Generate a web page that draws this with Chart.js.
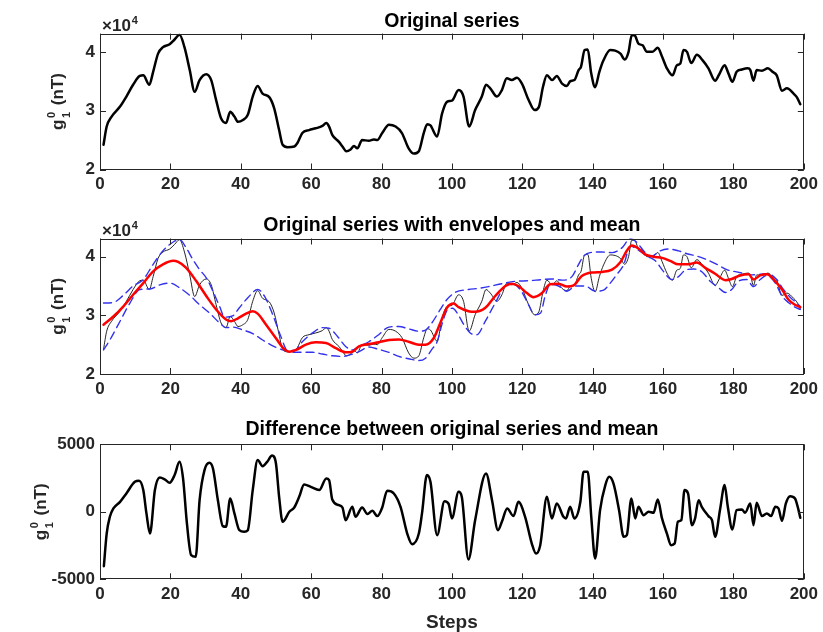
<!DOCTYPE html>
<html>
<head>
<meta charset="utf-8">
<title>g10 series, envelopes and mean</title>
<script src="https://cdn.jsdelivr.net/npm/chart.js@4.4.1/dist/chart.umd.min.js"></script>
<style>
  body { margin: 0; background: #fff; }
  #page { position: relative; width: 823px; height: 632px; overflow: hidden; }
  canvas { position: absolute; left: 0; }
</style>
</head>
<body>
<div id="page">
  <canvas id="c1" width="823" height="200" style="top:0"></canvas>
  <canvas id="c2" width="823" height="200" style="top:200px"></canvas>
  <canvas id="c3" width="823" height="232" style="top:400px"></canvas>
</div>
<script>
// --- data (nT) ---
const xTicks = [0, 20, 40, 60, 80, 100, 120, 140, 160, 180, 200];
const gTicks = [20000, 30000, 40000];
const diffTicks = [-5000, 0, 5000];

const origSteps = [1,1.9,3.3,5.7,7.5,9.4,11.3,12.3,14,15.1,
  16.5,17.9,19.8,21.2,22.6,24,25.5,26.9,28.3,30.2,
  31.6,33,34.4,35.8,37,38.2,39.2,40.6,42,43.4,
  44.8,46.2,48.1,49.5,50.9,51.9,53.3,55.2,56.1,57.5,
  59.4,61.3,63.2,64.3,65.1,66,67.9,68.9,70,71.2,
  72.2,73.1,74.5,76.4,77.8,78.8,80.2,82.1,84,85.8,
  87.7,89.2,90.6,92,93,93.9,95.8,97.2,98.6,100,
  101.9,103.3,104.9,106.6,108.5,109.7,110.9,112.8,114.2,115.6,
  117,118.5,119.9,121.8,123.5,124.7,125.9,127,128.5,129.8,
  131.3,132.7,133.6,134.8,136,136.7,137.7,138.6,139.6,140.7,
  141.9,143.1,145,146.4,147.9,149.1,150.2,151.1,151.9,153,
  154.2,155.4,157,158.5,159.7,161.1,162.7,163.9,164.9,165.8,
  166.8,168,169.6,171.2,172.9,174.8,175.9,177.5,178.6,179.7,
  180.9,182.4,184.1,184.8,185.7,186.6,188.1,189.8,191.1,192.3,
  193.8,195.2,197.1,198,199];
const origVals = [24200,27300,29000,30700,32400,34400,35900,36000,34400,36600,
  39700,40800,41300,42100,42900,40800,36900,33200,35200,36200,
  35200,31800,28700,27900,29800,29000,28100,28400,29300,32400,
  34200,32900,32300,30400,26700,24200,23800,23900,24500,26200,
  26700,27000,27400,27900,27300,25900,24700,23900,23100,23400,
  24000,23600,25000,24900,25100,25000,26200,27600,27300,26200,
  23600,22700,23100,26200,27700,27500,25600,29500,31500,31700,
  33500,32400,27300,30100,32400,34400,33800,32400,33500,35500,
  35200,35600,34600,31800,30100,30600,34100,36000,35200,35900,
  34600,34200,35000,35200,36900,37500,40300,40400,36300,34000,
  36600,38600,40300,40200,39700,38700,40000,42800,42800,41400,
  41100,40000,40000,40700,39200,37200,36000,37700,38000,40300,
  40000,38100,39500,38600,37200,35100,36100,37700,36300,34900,
  36600,37000,37200,36900,35100,36900,36800,37200,36600,36000,
  33400,33800,32900,32300,31100];

const meanSteps = [1,3.8,6.6,9.4,12.3,15.1,17.9,20.8,22.2,24.5,
  27.4,30.2,33,35.8,37.3,39.2,41.5,43.4,44.8,47.2,
  50,52.4,53.8,55.7,58.5,61.3,64.2,67,69.8,71.7,
  73.6,76.4,79.2,82.1,84.9,87.7,90.6,92.5,94.8,96.7,
  98.6,100.5,101.9,104.7,106.6,109.5,112.3,115.2,117,118.9,
  121.3,123.2,125.6,127.9,130.3,132.7,134.6,136.9,139.8,142.6,
  145.5,147.8,149.7,151.1,153,154.9,157.3,159.7,162,164.4,
  167.2,169.6,172,174.8,177.7,179.5,181.9,184.3,185.7,187.6,
  189.5,191.9,193.8,195.6,197.5,199];
const meanVals = [28400,29800,31500,33500,35500,37500,38700,39300,39100,38100,
  35800,33300,31000,29300,29000,29500,30300,30700,30300,28400,
  26100,24200,23800,24100,25000,25400,25300,24400,23700,23800,
  24700,25100,25400,25800,25900,25500,25000,25000,26100,28700,
  31300,32000,31400,30700,30600,31300,33300,35000,35400,35000,
  33800,33100,33800,35300,35400,34900,35100,36700,37300,37400,
  37800,39000,41000,41900,41400,40400,40000,39800,39300,38700,
  38700,39000,38100,37100,36000,36200,36800,37000,36100,36800,
  37000,35800,34400,32700,31800,31400];

const upperSteps = [1,3.8,6.6,9.4,12.3,15.1,17.9,20.8,22.6,24.5,
  26.4,28.3,30.2,32.1,34,35.4,37.7,39.6,42,44.8,
  46.7,49.1,51.4,53.3,55.2,57.5,60.4,63.2,65.1,67.5,
  69.8,71.7,73.6,76.4,79.2,82.1,84.9,87.7,90.6,92.5,
  94.3,96.7,98.6,100.9,104.7,107.6,110.4,114.2,118,121.8,
  125.6,128.4,131.3,134.1,136,137.4,139.3,142.6,145.5,148.3,
  150.7,152.6,154.9,156.8,159.2,161.6,164.4,166.8,169.6,172.4,
  175.3,178.1,180.9,183.3,185.2,187.6,189.8,192.3,194.2,196.1,
  198,199];
const upperVals = [32100,32200,33400,35000,36100,38700,41000,42500,42900,41500,
  39500,37800,36400,34100,31500,29700,29900,31300,33000,34400,
  33300,30100,26400,24000,24000,25500,27000,27900,27800,26400,
  24700,24100,24700,25500,26700,28000,28100,27700,27300,27500,
  28700,31000,32700,33900,34400,34600,34900,35400,35800,35900,
  36100,36200,36000,36600,38700,40100,40700,40800,40700,41500,
  43100,42400,40700,40100,41000,41300,41000,40500,40100,39500,
  38700,37800,37400,37100,36900,37000,37100,36100,34400,33100,
  32100,31500];

const lowerSteps = [1,2.8,5.7,8.5,11.3,14.2,17,19.8,22.6,25.5,
  28.3,31.1,34,35.8,37.7,40.6,43.4,46.2,49.1,51.9,
  54.7,57.5,60.4,63.2,66,68.9,71.2,73.6,76.4,79.2,
  82.1,84.9,87.7,90.6,92.5,94.3,95.8,97.2,98.6,100.2,
  101.7,103.3,105.2,107.1,109.5,112.3,115.2,117.5,119.4,121.8,
  123.5,125.2,126.5,128,130.3,132.7,135,137.9,140.7,143.1,
  145,146.9,148.8,150.7,153,155.4,157.8,160.1,162.5,164.4,
  166.3,168.7,171.1,173.4,175.8,177.7,179.5,181.4,183.8,185.7,
  187.6,189.5,191.9,193.8,195.6,197.5,199];
const lowerVals = [24100,25800,29000,32100,34400,34500,35200,35500,34700,33400,
  31800,30400,28700,27900,28000,27500,26900,25800,24800,24100,
  23700,23700,23700,23400,23100,23000,23300,23800,24600,24200,
  23700,23000,22600,22300,22700,24200,25500,28500,30800,31200,
  30200,28500,27000,26700,29000,32100,35000,35300,34400,31800,
  30100,30400,33300,35300,35000,34100,35000,35000,34100,34300,
  35500,37000,38600,41800,41100,40100,39300,37500,36100,36600,
  37700,37900,37400,35800,34700,33900,34400,35800,36100,34900,
  36100,36800,35500,33300,32200,31400,31000];

const diffSteps = [1.1,1.9,2.8,3.8,5.7,7.5,9.9,11.1,12.3,13.2,
  14.2,15.6,17,18.4,19.8,21.2,22.6,23.6,24.7,25.9,
  27.2,28.3,29.7,31.1,32.1,33.5,34.9,35.8,37,38.2,
  39.6,41,42,43.4,44.8,46.2,47.5,48.9,50,50.9,
  51.9,53.8,55.2,56.6,58,59.9,62.3,64.3,65.1,66,
  67.9,68.9,69.8,71.7,72.6,74.5,76,77.4,78.8,80.2,
  81.6,83.5,85.4,87.3,88.7,90.6,91.5,92.9,93.9,95.8,
  97.9,99.1,100,101.9,102.8,104.7,106.6,109.7,111.4,113.1,
  114.2,115.7,117.5,118.9,120.8,122.7,123.9,125.1,127,128.4,
  129.8,131.7,132.4,133.6,134.8,136.5,137.4,138.6,139.6,140.7,
  142.1,143.6,144.7,145.9,147.5,148.8,149.7,151,152.1,153,
  154.5,155.9,157.3,158.5,159.7,161.1,162.3,163.3,164.2,165.2,
  166.1,167.1,168.2,169.1,170.1,171,172.9,173.9,174.8,176.2,
  177.5,178.4,179.7,180.9,182.4,183.3,184.8,185.7,186.6,188.1,
  189.5,190.7,191.9,192.8,193.8,194.9,196.1,197.5,198.5,199];
const diffVals = [-4030,-1610,-370,250,740,1360,2220,2300,1610,-120,
  -1610,1610,2540,2400,2150,2720,3700,2470,-860,-3210,
  -3330,860,3090,3630,3210,860,-1060,-1110,990,-120,
  -1360,-1480,-1360,1610,3830,3380,3700,4170,3580,1110,
  -740,0,320,1110,2030,1850,1610,2470,2350,910,
  490,320,-620,370,-370,320,-170,70,-320,320,
  1560,1360,370,-1610,-2400,-1610,-120,2720,2220,-1730,
  790,570,-490,1480,1110,-3530,-620,2840,860,-1360,
  -740,250,-320,740,-370,-2350,-3090,-2470,1110,-490,
  620,-370,-490,370,-490,740,2960,2960,-370,-3460,
  120,1980,2590,2100,120,-1850,-1730,990,-490,370,
  -250,0,-70,910,-490,-1610,-2470,-2350,-740,-620,
  1610,1360,-990,-490,860,370,-320,-620,-1850,170,
  1980,370,-1310,120,170,-70,620,-990,670,-320,
  -120,-320,370,250,-670,620,1160,990,120,-440];

// --- look ---
const FONT = '"Liberation Sans", Arial, Helvetica, sans-serif';
const TXT = '#262626';
const TICK_LEN = 6;

Chart.defaults.font.family = FONT;
Chart.defaults.color = TXT;

const pts = (xs, ys) => xs.map((x, i) => ({ x, y: ys[i] }));

// box, inward ticks, y label with stacked sub/superscript, x10^4 marker
const framePlugin = {
  id: 'frame',
  afterDraw(chart, args, opts) {
    const { ctx, chartArea: a } = chart;
    const x = chart.scales.x, y = chart.scales.y;
    ctx.save();
    ctx.strokeStyle = TXT;
    ctx.lineWidth = 1;
    ctx.strokeRect(Math.round(a.left) + 0.5, Math.round(a.top) + 0.5,
      Math.round(a.right - a.left) - 1, Math.round(a.bottom - a.top) - 1);
    ctx.beginPath();
    x.ticks.forEach(t => {
      const px = Math.round(x.getPixelForValue(t.value)) + 0.5;
      ctx.moveTo(px, a.bottom); ctx.lineTo(px, a.bottom - TICK_LEN);
      ctx.moveTo(px, a.top); ctx.lineTo(px, a.top + TICK_LEN);
    });
    y.ticks.forEach(t => {
      const py = Math.round(y.getPixelForValue(t.value)) + 0.5;
      ctx.moveTo(a.left, py); ctx.lineTo(a.left + TICK_LEN, py);
      ctx.moveTo(a.right, py); ctx.lineTo(a.right - TICK_LEN, py);
    });
    ctx.stroke();

    ctx.fillStyle = TXT;
    ctx.textBaseline = 'alphabetic';
    ctx.textAlign = 'left';
    if (opts.exponent) {
      ctx.font = `bold 17px ${FONT}`;
      ctx.fillText('\u00d710', a.left + 2, a.top - 3);
      const w = ctx.measureText('\u00d710').width;
      ctx.font = `bold 11px ${FONT}`;
      ctx.fillText('4', a.left + 3 + w, a.top - 10);
    }

    // y label: g with subscript 1 and superscript 0, then (nT)
    const big = `bold 17px ${FONT}`, small = `bold 11px ${FONT}`;
    ctx.font = big;
    const wg = ctx.measureText('g').width;
    const wr = ctx.measureText(' (nT)').width;
    ctx.font = small;
    const ws = ctx.measureText('0').width;
    const total = wg + 1.5 + ws + 2 + wr;
    ctx.translate(opts.labelX, (a.top + a.bottom) / 2);
    ctx.rotate(-Math.PI / 2);
    let cx = -total / 2;
    ctx.font = big;
    ctx.fillText('g', cx, 0);
    cx += wg + 1.5;
    ctx.font = small;
    ctx.fillText('0', cx, -8);
    ctx.fillText('1', cx, 7);
    cx += ws + 2;
    ctx.font = big;
    ctx.fillText(' (nT)', cx, 0);
    ctx.restore();
  }
};

function panelOptions(cfg) {
  return {
    responsive: false,
    animation: false,
    events: [],
    layout: { padding: { left: 0, right: 18, top: 0, bottom: 0 } },
    elements: { point: { radius: 0 }, line: { cubicInterpolationMode: 'monotone', borderJoinStyle: 'round', borderCapStyle: 'round' } },
    plugins: {
      legend: { display: false },
      tooltip: { enabled: false },
      title: {
        display: true, text: cfg.title, color: '#000', fullSize: false,
        font: { size: 19.5, weight: 'bold' },
        padding: { top: cfg.titleTop, bottom: cfg.titleBottom }
      },
      frame: { labelX: cfg.labelX, exponent: cfg.exponent }
    },
    scales: {
      x: {
        type: 'linear', min: 0, max: 200,
        afterBuildTicks: s => { s.ticks = xTicks.map(v => ({ value: v })); },
        afterFit: s => { s.height = cfg.xHeight; },
        grid: { display: false, drawTicks: false },
        border: { display: false },
        ticks: { autoSkip: false, maxRotation: 0, padding: 5, color: TXT, font: { size: 17, weight: 'bold' } },
        title: cfg.xTitle || { display: false }
      },
      y: {
        type: 'linear', min: cfg.yMin, max: cfg.yMax,
        afterBuildTicks: s => { s.ticks = cfg.yTicks.map(v => ({ value: v })); },
        afterFit: s => { s.width = 100; },
        grid: { display: false, drawTicks: false },
        border: { display: false },
        ticks: { padding: 5, color: TXT, font: { size: 17, weight: 'bold' }, callback: cfg.yFormat }
      }
    }
  };
}

const thick = color => ({ borderColor: color, borderWidth: 2.5 });

new Chart(document.getElementById('c1'), {
  type: 'line',
  data: { datasets: [{ data: pts(origSteps, origVals), ...thick('#000') }] },
  options: panelOptions({
    title: 'Original series', titleTop: 10.2, titleBottom: 0, xHeight: 30.5,
    yMin: 20000, yMax: 43100, yTicks: gTicks, yFormat: v => String(v / 10000),
    labelX: 63, exponent: true
  }),
  plugins: [framePlugin]
});

new Chart(document.getElementById('c2'), {
  type: 'line',
  data: {
    datasets: [
      { data: pts(meanSteps, meanVals), borderColor: '#ff0000', borderWidth: 2.5, order: 0 },
      { data: pts(upperSteps, upperVals), borderColor: '#3232ee', borderWidth: 1.4, borderDash: [8, 5], order: 1 },
      { data: pts(lowerSteps, lowerVals), borderColor: '#3232ee', borderWidth: 1.4, borderDash: [8, 5], order: 1 },
      { data: pts(origSteps, origVals), borderColor: '#262626', borderWidth: 1, order: 2 }
    ]
  },
  options: panelOptions({
    title: 'Original series with envelopes and mean', titleTop: 13.7, titleBottom: 1.4, xHeight: 26,
    yMin: 20000, yMax: 43100, yTicks: gTicks, yFormat: v => String(v / 10000),
    labelX: 63, exponent: true
  }),
  plugins: [framePlugin]
});

new Chart(document.getElementById('c3'), {
  type: 'line',
  data: { datasets: [{ data: pts(diffSteps, diffVals), ...thick('#000') }] },
  options: panelOptions({
    title: 'Difference between original series and mean', titleTop: 18.3, titleBottom: 2.6, xHeight: 52.7,
    yMin: -5000, yMax: 5000, yTicks: diffTicks, yFormat: v => String(v),
    labelX: 46, exponent: false,
    xTitle: { display: true, text: 'Steps', color: TXT, font: { size: 19, weight: 'bold' }, padding: { top: 0, bottom: -2 } }
  }),
  plugins: [framePlugin]
});
</script>
</body>
</html>
